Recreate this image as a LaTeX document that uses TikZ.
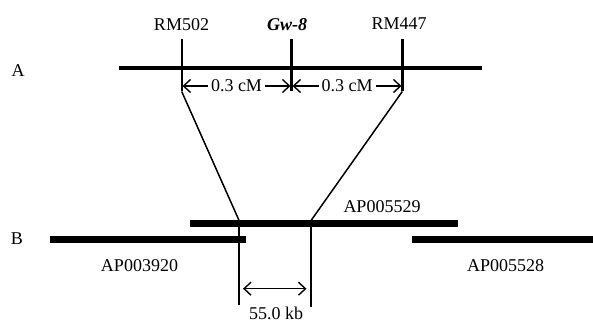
\documentclass[tikz,border=0pt]{standalone}
\usepackage{fontspec}
\setmainfont{Liberation Serif}
\usetikzlibrary{arrows.meta}
\begin{document}
\begin{tikzpicture}[x=1pt,y=-1pt,
  lbl/.style={font=\fontsize{18}{22}\selectfont, inner sep=0pt, anchor=center},
  chrom/.style={line width=3.5pt},
  tick/.style={line width=2.4pt},
  link/.style={line width=1.5pt},
  vline/.style={line width=1.8pt},
  bar/.style={line width=7pt},
  dim/.style={line width=1.4pt, {Straight Barb[length=7pt,width=13pt]}-{Straight Barb[length=7pt,width=13pt]}},
]
\useasboundingbox (0,0) rectangle (593,323);
% panel labels
\node[lbl] (A) at (18,71) {A};
\node[lbl] (B) at (17,239) {B};
% chromosome line
\coordinate (cl) at (118.5,68);
\coordinate (cr) at (481.5,68);
\draw[chrom] (cl) -- (cr);
% ticks
\coordinate (t1a) at (181.7,39); \coordinate (t1b) at (181.7,91.5);
\coordinate (t2a) at (291.5,39); \coordinate (t2b) at (291.5,91.5);
\coordinate (t3a) at (402.3,39); \coordinate (t3b) at (402.3,91.5);
\draw[tick] (t1a) -- (t1b);
\draw[tick] (t2a) -- (t2b);
\draw[tick] (t3a) -- (t3b);
% marker labels
\node[lbl] (rm502) at (181.5,24.5) {RM502};
\node[lbl] (gw8) at (287,24.5) {\textbf{\textit{Gw-8}}};
\node[lbl] (rm447) at (399,23.5) {RM447};
% cM distances
\coordinate (d1a) at (182.5,86); \coordinate (d1b) at (290.5,86);
\coordinate (d2a) at (292.5,86); \coordinate (d2b) at (401.5,86);
\draw[dim] (d1a) -- node[lbl, fill=white, inner xsep=3pt, inner ysep=1pt] (cm1) {0.3 cM} (d1b);
\draw[dim] (d2a) -- node[lbl, fill=white, inner xsep=3pt, inner ysep=1pt] (cm2) {0.3 cM} (d2b);
% BAC bars
\coordinate (b1l) at (50,239.5); \coordinate (b1r) at (245.7,239.5);
\coordinate (b2l) at (190,223.5); \coordinate (b2r) at (457.7,223.5);
\coordinate (b3l) at (412.3,239.5); \coordinate (b3r) at (593,239.5);
\draw[bar] (b1l) -- (b1r);
\draw[bar] (b2l) -- (b2r);
\draw[bar] (b3l) -- (b3r);
% links and verticals
\coordinate (p1) at (239.3,221); \coordinate (q1) at (239.3,305);
\coordinate (p2) at (310.7,221); \coordinate (q2) at (310.7,307);
\draw[link] (t1b) -- (p1);
\draw[link] (t3b) -- (p2);
\draw[vline] (p1) -- (q1);
\draw[vline] (p2) -- (q2);
% kb distance
\coordinate (k1) at (243,288.7); \coordinate (k2) at (306.5,288.7);
\draw[dim] (k1) -- (k2);
\node[lbl] (kb) at (276,313.5) {55.0 kb};
% BAC labels
\node[lbl] (ap3920) at (139.5,266) {AP003920};
\node[lbl] (ap5529) at (382,206.5) {AP005529};
\node[lbl] (ap5528) at (505.5,266) {AP005528};
\end{tikzpicture}
\end{document}
